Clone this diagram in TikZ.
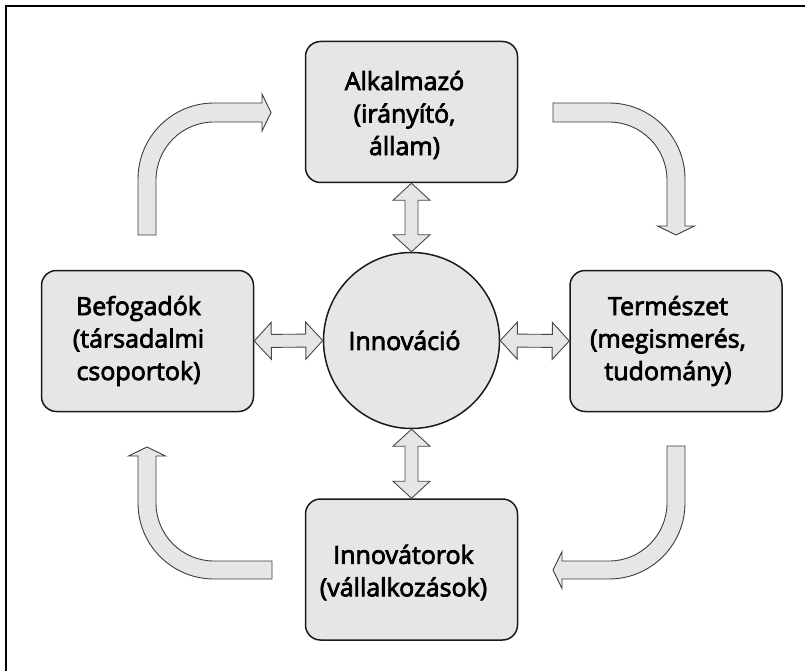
\documentclass[tikz,border=0pt]{standalone}
\usepackage{fontspec}
\setmainfont{Open Sans}
\newfontface\labelface{Open Sans}[FakeBold=3]
\usetikzlibrary{calc}
\definecolor{boxfill}{HTML}{E6E6E6}
\definecolor{edgecol}{HTML}{1A1A1A}
\newcommand\dblarr[2]{%
  \draw[darrow] (#1)
    -- ($(#1)!17pt!(#2)!18.5pt!90:(#2)$)
    -- ($(#1)!17pt!(#2)!6.5pt!90:(#2)$)
    -- ($(#2)!17pt!(#1)!6.5pt!-90:(#1)$)
    -- ($(#2)!17pt!(#1)!18.5pt!-90:(#1)$)
    -- (#2)
    -- ($(#2)!17pt!(#1)!18.5pt!90:(#1)$)
    -- ($(#2)!17pt!(#1)!6.5pt!90:(#1)$)
    -- ($(#1)!17pt!(#2)!6.5pt!-90:(#2)$)
    -- ($(#1)!17pt!(#2)!18.5pt!-90:(#2)$)
    -- cycle;}
\begin{document}
\begin{tikzpicture}[x=1pt,y=-1pt,
  boxnode/.style={draw=edgecol,line width=1.5pt,fill=boxfill,rounded corners=15pt,
    minimum width=212pt,minimum height=141pt,inner sep=0pt},
  circnode/.style={draw=edgecol,line width=1.5pt,fill=boxfill,circle,minimum size=176pt,inner sep=0pt},
  txt/.style={align=center,font=\labelface\fontsize{25}{32.5}\selectfont,text=black,inner sep=0pt},
  darrow/.style={draw=edgecol!80,line width=0.9pt,fill=boxfill,line join=miter},
  carrow/.style={draw=edgecol!85,line width=0.9pt,fill=boxfill,line join=miter}]
\useasboundingbox (0,0) rectangle (805,671);
\draw[line width=1.5pt,black] (6,671) -- (6,6) -- (805,6);

\node[boxnode] (top) at (411.5,112) {};
\node[boxnode] (left) at (147.5,341) {};
\node[boxnode] (right) at (676,341) {};
\node[boxnode] (bottom) at (411.5,569.5) {};
\node[circnode] (c) at (411.5,340.5) {};

\node[txt] (toptxt) at ([xshift=-7pt,yshift=-3pt]top.center) {Alkalmazó\\(irányító,\\állam)};
\node[txt] (lefttxt) at ([xshift=-9pt]left.center) {Befogadók\\(társadalmi\\csoportok)};
\node[txt] (righttxt) at ([xshift=-8pt]right.center) {Természet\\(megismerés,\\tudomány)};
\node[txt] (bottomtxt) at ([xshift=-8pt,yshift=-3pt]bottom.center) {Innovátorok\\(vállalkozások)};
\node[txt] (ctxt) at ([xshift=-7pt]c.center) {Innováció};

\dblarr{top.south}{c.north}
\dblarr{left.east}{c.west}
\dblarr{c.east}{right.west}
\dblarr{c.south}{bottom.north}

% top-left curved arrow
\draw[carrow] (138,235) -- (138,179) .. controls (138,137) and (172,103) .. (214,103)
  -- (262,103) -- (262,94) -- (271,112.5) -- (262,131) -- (262,122) -- (214,122)
  .. controls (182,122) and (156,148) .. (156,180) -- (156,235) -- cycle;
% top-right curved arrow
\draw[carrow] (553,103) -- (609,103) .. controls (651,103) and (685,137) .. (685,179)
  -- (685,226) -- (694.5,226) -- (676,235) -- (657.5,226) -- (667,226) -- (667,180)
  .. controls (667,148) and (641,122) .. (609,122) -- (553,122) -- cycle;
% bottom-left curved arrow
\draw[carrow] (147,447) -- (165.5,456) -- (156,456) -- (156,503)
  .. controls (156,535) and (182,561) .. (214,561) -- (272,561) -- (272,579) -- (214,579)
  .. controls (172,579) and (138,545) .. (138,503) -- (138,456) -- (128.5,456) -- cycle;
% bottom-right curved arrow
\draw[carrow] (667,446) -- (685,446) -- (685,503) .. controls (685,545) and (651,579) .. (609,579)
  -- (562,579) -- (562,588.5) -- (553,570) -- (562,551.5) -- (562,561) -- (609,561)
  .. controls (641,561) and (667,535) .. (667,503) -- cycle;
\end{tikzpicture}
\end{document}
